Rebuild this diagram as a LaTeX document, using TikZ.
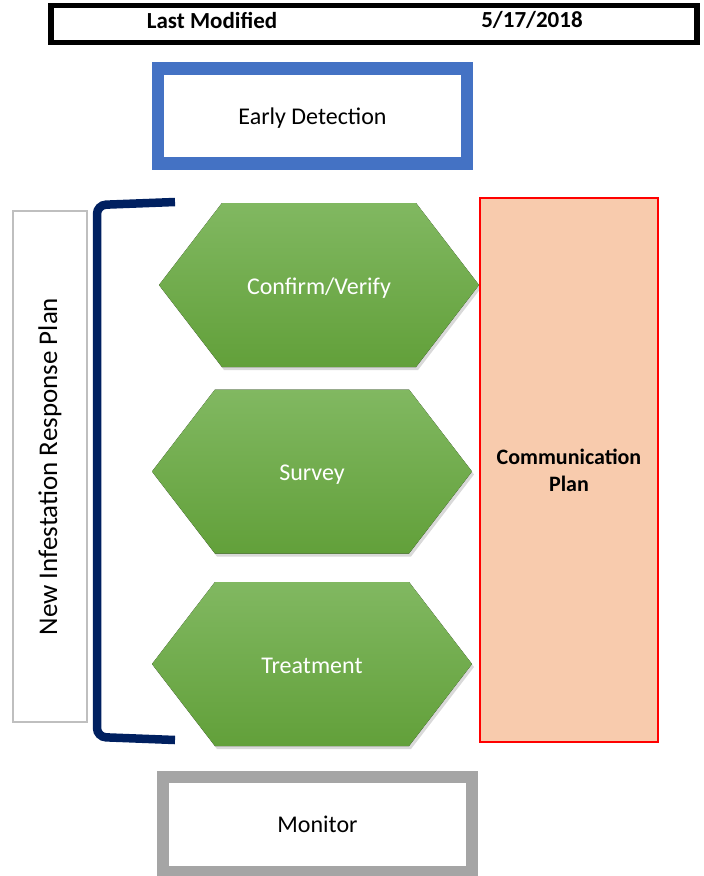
\documentclass[tikz,border=0pt]{standalone}
\usepackage{fontspec}
\setmainfont{Carlito}
\usepackage{tikz}
\usetikzlibrary{positioning,shadows}
\definecolor{edblue}{HTML}{4472C4}
\definecolor{mongray}{HTML}{A5A5A5}
\definecolor{boxgray}{HTML}{BFBFBF}
\definecolor{navy}{HTML}{002060}
\definecolor{commfill}{HTML}{F8CBAD}
\definecolor{hextop}{HTML}{81B861}
\definecolor{hexbot}{HTML}{62A03A}

\begin{document}
\begin{tikzpicture}[x=1pt,y=-1pt,
    stagebox/.style={draw, inner sep=0pt, line width=12.5pt, minimum width=309pt, minimum height=95pt, text depth=0pt, font=\fontsize{24}{29}\selectfont},
    hexfill/.style={top color=hextop, bottom color=hexbot, drop shadow={shadow xshift=2pt, shadow yshift=-3pt, opacity=0.3}},
    hextext/.style={text=white, text depth=0pt, font=\fontsize{24}{29}\selectfont}]
    \useasboundingbox (0,0) rectangle (704,876);

    % Header
    \node[draw=black, line width=5.5pt, minimum width=646pt, minimum height=37pt, inner sep=0pt] (header) at (374,24) {};
    \node[font=\bfseries\fontsize{23}{28}\selectfont] (modified) at (212,20) {Last Modified};
    \node[font=\bfseries\fontsize{23}{28}\selectfont] (date) at (532,20) {5/17/2018};

    % Early detection and monitor
    \node[stagebox, draw=edblue] (early) at (312.5,116) {Early Detection};
    \node[stagebox, draw=mongray] (monitor) at (317.5,824.5) {Monitor};

    % Response plan label and bracket
    \node[draw=boxgray, line width=1.5pt, rotate=90, minimum width=511pt, minimum height=74pt, font=\fontsize{27}{32}\selectfont] (plan) at (50,466.5) {New Infestation Response Plan};
    \draw[navy, line width=8.5pt, rounded corners=9pt] (175,202) -- (97,205) -- (97,737) -- (175,740);

    % Response steps
    \foreach \cx/\cy/\hexname/\steptext in {319/285/confirm/{Confirm/Verify}, 312/471.5/survey/Survey, 312/664/treatment/Treatment} {
        \fill[hexfill] (\cx-160,\cy) -- (\cx-97,\cy-82) -- (\cx+97,\cy-82) -- (\cx+160,\cy) -- (\cx+97,\cy+82) -- (\cx-97,\cy+82) -- cycle;
        \node[hextext] (\hexname) at (\cx,\cy+1.5) {\steptext};
    }

    % Communication plan
    \node[draw=red, fill=commfill, line width=2.5pt, minimum width=178pt, minimum height=544pt, align=center, font=\bfseries\fontsize{22}{27}\selectfont] (comm) at (569,470) {Communication\\Plan};
\end{tikzpicture}
\end{document}
